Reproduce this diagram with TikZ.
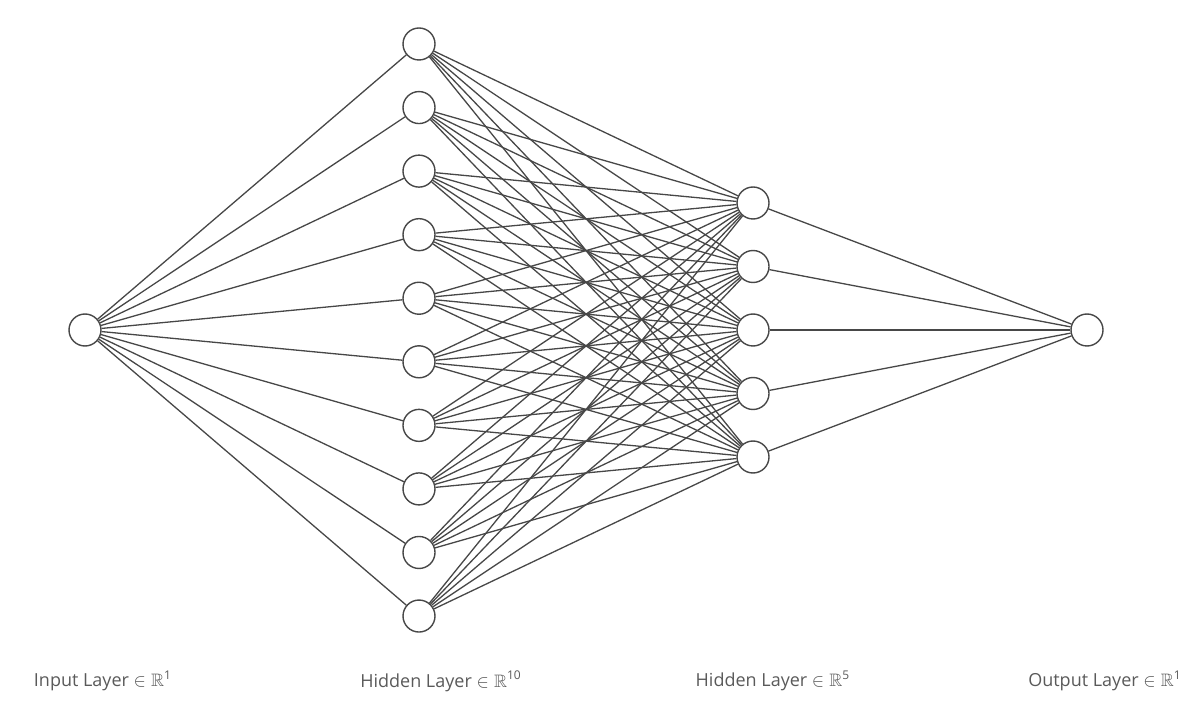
\documentclass[tikz,border=0pt]{standalone}
\usepackage{amssymb}
\usepackage{fontspec}
\setmainfont{Open Sans}
\definecolor{linegray}{HTML}{474747}
\definecolor{labelgray}{HTML}{5A5A5A}

\begin{document}
\begin{tikzpicture}[x=0.5pt,y=-0.5pt,
        neuron/.style={circle,draw=linegray,fill=white,line width=0.7pt,minimum size=16pt,inner sep=0pt},
        edge/.style={draw=linegray,line width=0.65pt},
        layerlabel/.style={font=\fontsize{9}{11}\selectfont,text=labelgray}]
    \useasboundingbox (0,0) rectangle (1204,716);
    % neurons
    \node[neuron] (in) at (85,330) {};
    \foreach \i in {1,...,10}
        \node[neuron] (h\i) at (419,{44+(\i-1)*63.56}) {};
    \foreach \j in {1,...,5}
        \node[neuron] (g\j) at (753,{203+(\j-1)*63.5}) {};
    \node[neuron] (out) at (1087,330) {};
    % connections
    \foreach \i in {1,...,10} {
        \draw[edge] (in) -- (h\i);
        \foreach \j in {1,...,5}
            \draw[edge] (h\i) -- (g\j);
    }
    \foreach \j in {1,...,5}
        \draw[edge] (g\j) -- (out);
    % layer names
    \node[layerlabel] (lin) at (103,681) {Input Layer $\in\mathbb{R}$\textsuperscript{1}};
    \node[layerlabel] (lh1) at (441,681) {Hidden Layer $\in\mathbb{R}$\textsuperscript{10}};
    \node[layerlabel] (lh2) at (773,681) {Hidden Layer $\in\mathbb{R}$\textsuperscript{5}};
    \node[layerlabel] (lout) at (1105,681) {Output Layer $\in\mathbb{R}$\textsuperscript{1}};
\end{tikzpicture}
\end{document}
